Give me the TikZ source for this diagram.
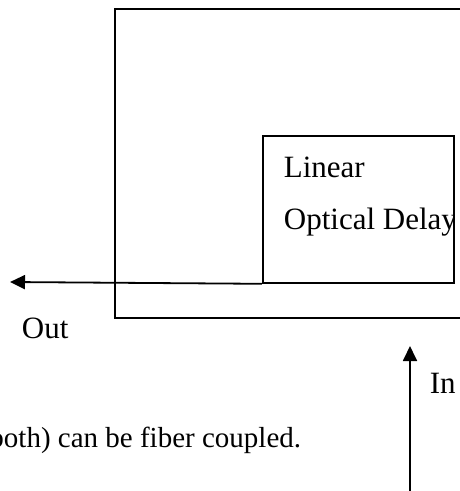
\documentclass[tikz,border=0pt]{standalone}
\usepackage{fontspec}
\setmainfont{Liberation Serif}
\usetikzlibrary{arrows.meta,positioning}

\begin{document}
\begin{tikzpicture}[%
x=1pt, y=-1pt,
>={Triangle[length=15pt,width=14pt]},
line width=1.8pt,
lbl/.style={font=\fontsize{31}{37}\selectfont, inner sep=0pt, anchor=base west},
box/.style={draw, rectangle, minimum width=191pt, minimum height=147pt, inner sep=0pt, anchor=north west}
]
\useasboundingbox (0,0) rectangle (460,491);

% housing, runs off the right edge
\draw (115,9) rectangle (540,318);

\node[box] (delay) at (262,135) {};
\begin{scope}
\clip (delay.north west) rectangle (delay.south east);
\node[lbl] (lin) at (283,177) {Linear};
\node[lbl] (opt) at (283,229) {Optical Delay};
\end{scope}

\coordinate (outend) at (10,282);
\coordinate (inbase) at (410,495);
\coordinate (intip) at (410,346);

\path[->] (delay.south west) edge (outend);
\path[->] (inbase) edge (intip);

\node[lbl] (out) at (21,338) {Out};
\node[lbl] (in) at (429,393) {In};
\node[lbl, font=\fontsize{29}{35}\selectfont, anchor=base east] (note) at (302,447) {both) can be fiber coupled.};

\end{tikzpicture}
\end{document}
